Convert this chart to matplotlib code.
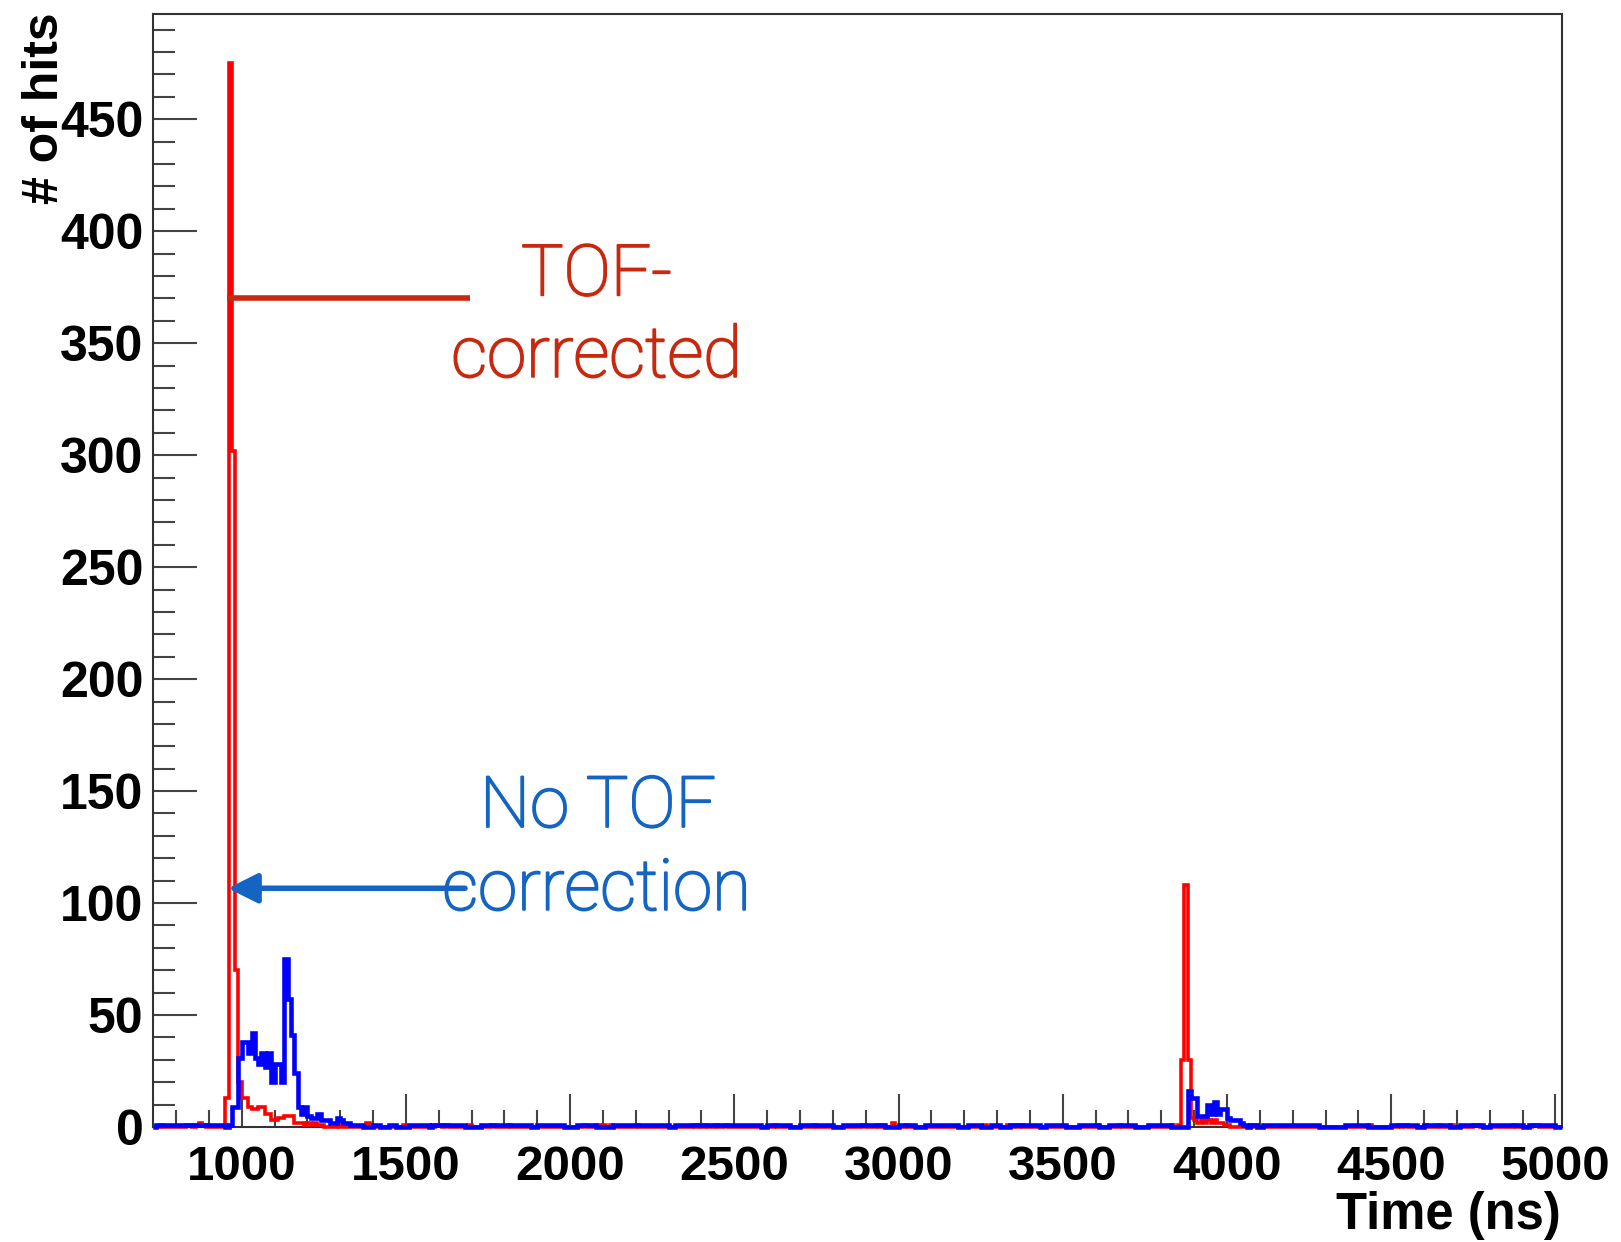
import numpy as np
import matplotlib
matplotlib.use("Agg")
import matplotlib.pyplot as plt
import matplotlib.patheffects as pe
from matplotlib.ticker import MultipleLocator

# Histogram binning (ns)
t_lo, t_hi, bin_ns = 730, 5020, 10

# TOF-corrected hits: bin start (ns) and number of hits
tof_time = [750, 830, 840, 860, 870, 880,
            950, 960, 970, 980, 990, 1000, 1010, 1020, 1030, 1040, 1050, 1060,
            1070, 1080, 1090, 1100, 1110, 1120, 1130, 1140, 1150, 1160, 1170,
            1180, 1190, 1200, 1210, 1220, 1230, 1240,
            1290, 1380, 1490, 1590, 1600, 1620, 1690, 1760, 1810, 2040, 2080,
            2100, 2120, 2200, 2370, 2390, 2410, 2440, 2470, 2620, 2740, 2890,
            2930, 2950, 2980, 3020, 3260, 3330, 3350, 3370, 3600, 3670, 3830,
            3850,
            3860, 3870, 3880, 3890, 3900, 3910, 3920, 3930, 3940, 3950, 3960,
            3970, 3980, 3990, 4000,
            4080, 4430, 4520, 4540, 4600, 4640, 4680, 4750, 4760, 4870, 4930,
            4940]
tof_hits = [1, 1, 1, 1, 2, 1,
            13, 475, 302, 70, 20, 13, 13, 9, 8, 8, 9, 9,
            6, 6, 3, 3, 4, 4, 5, 5, 5, 2, 2,
            2, 1, 2, 1, 2, 1, 1,
            1, 2, 1, 1, 1, 1, 1, 1, 1, 1, 1,
            1, 1, 1, 1, 1, 1, 1, 1, 1, 1, 1,
            1, 1, 2, 1, 1, 1, 1, 1, 1, 1, 1,
            1,
            30, 108, 30, 4, 3, 2, 3, 2, 3, 2, 3,
            2, 2, 1, 1,
            1, 1, 1, 1, 1, 1, 1, 1, 1, 1, 1,
            1]

# Uncorrected hits: bin start (ns) and number of hits around the two bunches
raw_time = [960, 970, 980, 990, 1000, 1010, 1020, 1030, 1040, 1050, 1060,
            1070, 1080, 1090, 1100, 1110, 1120, 1130, 1140, 1150, 1160, 1170,
            1180, 1190, 1200, 1210, 1220, 1230, 1240, 1250, 1260, 1270, 1280,
            1290, 1300, 1310, 1320,
            3880, 3890, 3900, 3910, 3920, 3930, 3940, 3950, 3960, 3970, 3980,
            3990, 4000, 4010, 4020, 4030, 4040, 4050]
raw_hits = [1, 9, 9, 31, 38, 38, 33, 42, 31, 28, 33,
            27, 33, 20, 28, 28, 20, 75, 57, 41, 24, 9,
            6, 9, 5, 4, 4, 6, 3, 3, 3, 2, 2,
            4, 3, 2, 2,
            16, 13, 13, 5, 5, 5, 10, 6, 11, 6, 8,
            8, 4, 3, 3, 3, 2, 1]

# Uncorrected single-hit background: (start, stop) ns ranges with one hit per bin
raw_single_runs = [(740, 950), (1330, 1370), (1400, 1420), (1450, 1470),
                   (1510, 1570), (1580, 1680), (1730, 1880), (1900, 1980),
                   (2020, 2080), (2130, 2300), (2320, 2580), (2600, 2670),
                   (2700, 2800), (2830, 2960), (3000, 3050), (3080, 3180),
                   (3210, 3250), (3280, 3310), (3340, 3430), (3450, 3510),
                   (3550, 3610), (3640, 3720), (3760, 3830), (4070, 4090),
                   (4110, 4280), (4360, 4430), (4500, 4580), (4600, 4680),
                   (4710, 4780), (4800, 4900), (4920, 5000)]

x_major = [1000, 1500, 2000, 2500, 3000, 3500, 4000, 4500, 5000]
y_major = [0, 50, 100, 150, 200, 250, 300, 350, 400, 450]

edges = np.arange(t_lo, t_hi + bin_ns, bin_ns)
nbins = len(edges) - 1


def bin_index(t):
    return ((np.asarray(t) - t_lo) // bin_ns).astype(int)


tof = np.zeros(nbins)
tof[bin_index(tof_time)] = tof_hits

raw = np.zeros(nbins)
for a, b in raw_single_runs:
    raw[bin_index(a):bin_index(b)] = 1
raw[bin_index(raw_time)] = raw_hits

W, H = 1621, 1242
fig = plt.figure(figsize=(W / 100, H / 100), dpi=100)
ax = fig.add_axes([153 / W, 1 - 1127 / H, (1562 - 153) / W, (1127 - 14) / H])

ax.stairs(tof, edges, color="#ff0000", lw=2.6, zorder=3, clip_on=False)
ax.stairs(raw, edges, color="#0000ff", lw=3.3, zorder=4, clip_on=False)

ax.set_xlim(t_lo, t_hi)
ax.set_ylim(0, 497)

ax.set_xticks(x_major)
ax.set_yticks(y_major)
ax.xaxis.set_minor_locator(MultipleLocator(100))
ax.yaxis.set_minor_locator(MultipleLocator(10))

ax.set_xticklabels([str(v) for v in x_major],
                   fontdict=dict(family="Liberation Sans", weight="bold", size=35.5))
ax.set_yticklabels([str(v) for v in y_major],
                   fontdict=dict(family="Liberation Sans", weight="bold", size=36))

ax.tick_params(axis="x", which="major", direction="in", length=24, width=1.5,
               color="#444444", pad=13)
ax.tick_params(axis="x", which="minor", direction="in", length=12, width=1.5,
               color="#444444")
ax.tick_params(axis="y", which="major", direction="in", length=32, width=1.5,
               color="#444444", pad=7)
ax.tick_params(axis="y", which="minor", direction="in", length=16, width=1.5,
               color="#444444")
ax.tick_params(top=False, right=False, which="both")

for s in ax.spines.values():
    s.set_color("#333333")
    s.set_linewidth(1.5)
    s.set_zorder(2)

fig.text(1561 / W, 1 - 1215 / H, "Time (ns)", ha="right", va="center",
         family="Liberation Sans", weight="bold", size=36.5)
fig.text(45 / W, 1 - 12 / H, "# of hits", ha="center", va="top", rotation=90,
         family="Liberation Sans", weight="bold", size=36)

# Annotations
red_c = "#c8280e"
blue_c = "#1464c3"
ann_font = dict(family=["Roboto", "DejaVu Sans"], weight="light", size=51)


def thicken(color):
    return [pe.withStroke(linewidth=1.4, foreground=color)]


ax.plot([955, 1696], [370, 370], color=red_c, lw=4, solid_capstyle="butt",
        zorder=5)
ax.text(2081, 371.4, "TOF-", color=red_c, ha="center", va="baseline",
        path_effects=thicken(red_c), **ann_font)
ax.text(2081, 335, "corrected", color=red_c, ha="center", va="baseline",
        path_effects=thicken(red_c), **ann_font)

ax.annotate("", xy=(958, 106.6), xytext=(1680, 106.6),
            arrowprops=dict(arrowstyle="-|>,head_length=1.8,head_width=0.9",
                            color=blue_c, lw=4, shrinkA=0, shrinkB=0),
            zorder=5)
ax.text(2085, 134, "No TOF", color=blue_c, ha="center", va="baseline",
        path_effects=thicken(blue_c), **ann_font)
ax.text(2081, 97, "correction", color=blue_c, ha="center", va="baseline",
        path_effects=thicken(blue_c), **ann_font)

fig.savefig("out.png", dpi=100)
